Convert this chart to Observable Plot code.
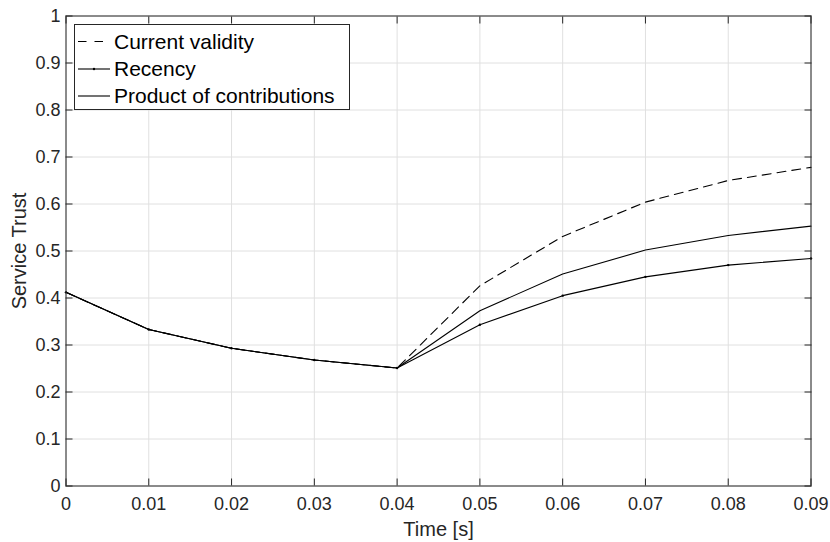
<!DOCTYPE html>
<html><head><meta charset="utf-8">
<script src="https://cdn.jsdelivr.net/npm/d3@7"></script>
<script src="https://cdn.jsdelivr.net/npm/@observablehq/plot@0.6"></script>
<style>html,body{margin:0;padding:0;background:#fff;} #chart{width:830px;height:542px;}</style>
</head><body><div id="chart"></div>
<script>
const time = [0, 0.01, 0.02, 0.03, 0.04, 0.05, 0.06, 0.07, 0.08, 0.09];
const currentValidity = [0.412, 0.333, 0.293, 0.268, 0.251, 0.426, 0.531, 0.604, 0.650, 0.678];
const recency         = [0.412, 0.333, 0.293, 0.268, 0.251, 0.343, 0.405, 0.445, 0.470, 0.484];
const product         = [0.412, 0.333, 0.293, 0.268, 0.251, 0.373, 0.451, 0.502, 0.533, 0.553];
const seriesNames = ["Current validity", "Recency", "Product of contributions"];
const xTicks = [0, 0.01, 0.02, 0.03, 0.04, 0.05, 0.06, 0.07, 0.08, 0.09];
const xTickLabels = ["0", "0.01", "0.02", "0.03", "0.04", "0.05", "0.06", "0.07", "0.08", "0.09"];
const yTicks = [0, 0.1, 0.2, 0.3, 0.4, 0.5, 0.6, 0.7, 0.8, 0.9, 1];
const yTickLabels = ["0", "0.1", "0.2", "0.3", "0.4", "0.5", "0.6", "0.7", "0.8", "0.9", "1"];
const xLabel = "Time [s]";
const yLabel = "Service Trust";

const rows = vals => time.map((t, i) => ({t, v: vals[i]}));
const ink = "#262626";
const gridColor = "#e0e0e0";
const dash = "9,6";
const font = "'Liberation Sans', Arial, Helvetica, sans-serif";

const plot = Plot.plot({
  width: 830, height: 542,
  marginLeft: 65.5, marginRight: 19.5, marginTop: 15.5, marginBottom: 56.5,
  style: {fontFamily: font, fontSize: "18px", color: ink, background: "#fff", overflow: "visible"},
  x: {domain: [0, 0.09]},
  y: {domain: [0, 1]},
  marks: [
    Plot.gridX(xTicks, {stroke: gridColor, strokeOpacity: 1}),
    Plot.gridY(yTicks, {stroke: gridColor, strokeOpacity: 1}),
    Plot.lineY(rows(currentValidity), {x: "t", y: "v", stroke: "#000", strokeWidth: 1.1, strokeDasharray: dash}),
    Plot.lineY(rows(product), {x: "t", y: "v", stroke: "#000", strokeWidth: 1.1}),
    Plot.lineY(rows(recency), {x: "t", y: "v", stroke: "#000", strokeWidth: 1.1}),
    Plot.dot(rows(recency), {x: "t", y: "v", r: 1.2, fill: "#000", stroke: "none"}),
    Plot.frame({stroke: ink, strokeWidth: 1}),
    Plot.axisX(xTicks, {anchor: "bottom", tickSize: 7, dy: -7, fill: "none", label: null, stroke: ink}),
    Plot.axisX(xTicks, {anchor: "top", tickSize: 7, dy: 7, fill: "none", label: null, stroke: ink}),
    Plot.axisY(yTicks, {anchor: "left", tickSize: 7, dx: 7, fill: "none", label: null, stroke: ink}),
    Plot.axisY(yTicks, {anchor: "right", tickSize: 7, dx: -7, fill: "none", label: null, stroke: ink}),
    Plot.axisX(xTicks, {anchor: "bottom", tickSize: 0, tickPadding: 11, label: null, fill: ink,
      tickFormat: d => xTickLabels[xTicks.indexOf(d)]}),
    Plot.axisY(yTicks, {anchor: "left", tickSize: 0, tickPadding: 5.5, label: null, fill: ink,
      tickFormat: d => yTickLabels[yTicks.indexOf(d)]}),
    Plot.text([xLabel], {text: d => d, frameAnchor: "bottom", dy: 50, lineAnchor: "bottom", textAnchor: "middle", fontSize: 20, fill: ink}),
    Plot.text([yLabel], {text: d => d, frameAnchor: "left", dx: -40, rotate: -90, lineAnchor: "bottom", textAnchor: "middle", fontSize: 20, fill: ink})
  ]
});

// Legend (box, samples, labels)
const svg = d3.select(plot);
const lg = svg.append("g").attr("font-family", font).attr("font-size", 21).attr("fill", "#000")
  .attr("text-anchor", "start");
lg.append("rect").attr("x", 74.5).attr("y", 24.5).attr("width", 275).attr("height", 85)
  .attr("fill", "#fff").attr("stroke", ink).attr("stroke-width", 1);
const rowY = [41.5, 69, 96];
seriesNames.forEach((name, i) => {
  const l = lg.append("line").attr("x1", 78).attr("x2", 110).attr("y1", rowY[i]).attr("y2", rowY[i])
    .attr("stroke", "#000").attr("stroke-width", 1.1);
  if (i === 0) l.attr("stroke-dasharray", "8.5,8");
  if (i === 1) lg.append("circle").attr("cx", 94).attr("cy", rowY[i]).attr("r", 1.2).attr("fill", "#000");
  lg.append("text").attr("x", 114).attr("y", rowY[i] + 7).attr("text-anchor", "start").text(name);
});

document.getElementById("chart").appendChild(plot);
</script>
</body></html>
